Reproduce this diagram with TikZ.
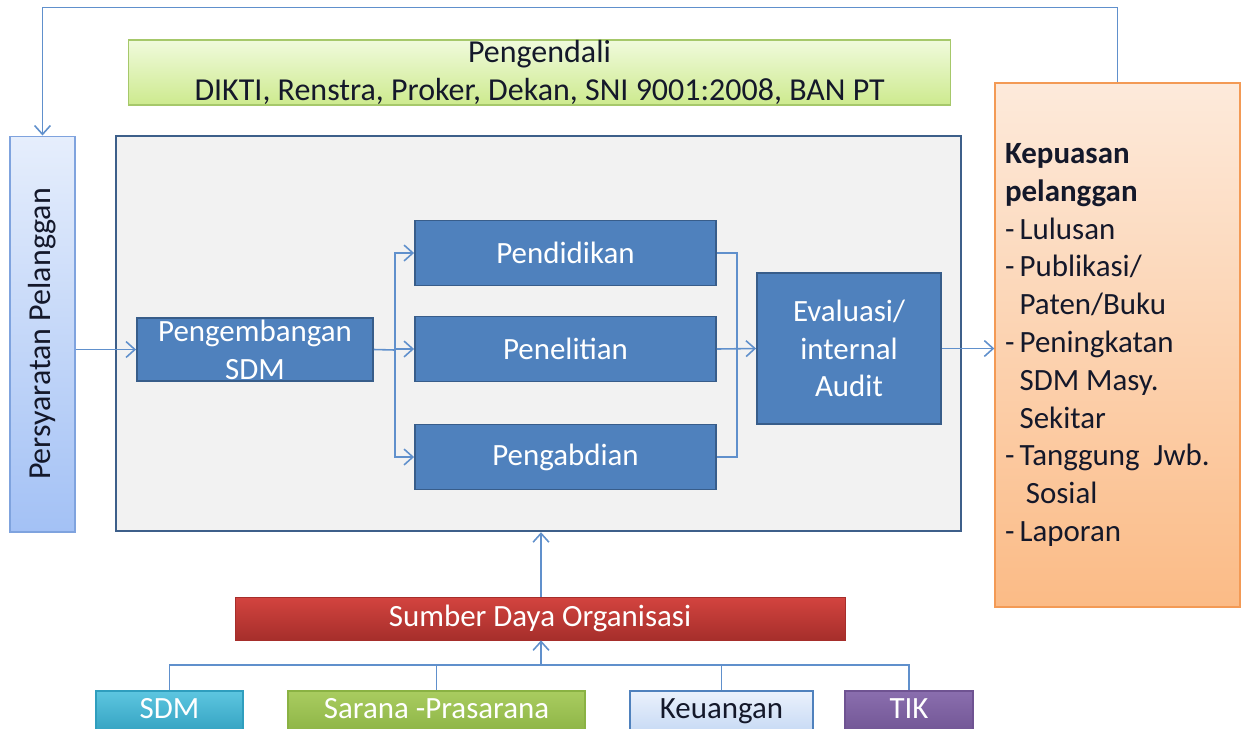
\documentclass[tikz,border=0pt]{standalone}
\usepackage{fontspec}
\setmainfont{Carlito}
\usetikzlibrary{arrows.meta}

\definecolor{procblue}{HTML}{4F81BD}
\definecolor{procborder}{HTML}{385D8A}
\definecolor{linkblue}{HTML}{6090CC}
\definecolor{mainfill}{HTML}{F2F2F2}
\definecolor{mainborder}{HTML}{3D5F8A}
\definecolor{darktext}{HTML}{14182A}
\definecolor{ctrlTop}{HTML}{F0FADC}
\definecolor{ctrlBot}{HTML}{CDEA8E}
\definecolor{ctrlBorder}{HTML}{A6C86A}
\definecolor{reqLeft}{HTML}{E6EEFC}
\definecolor{reqRight}{HTML}{A3C1F5}
\definecolor{reqBorder}{HTML}{7FA3DE}
\definecolor{kepTop}{HTML}{FDEADB}
\definecolor{kepBot}{HTML}{FBBB86}
\definecolor{kepBorder}{HTML}{F39A55}
\definecolor{sumTop}{HTML}{D3443F}
\definecolor{sumBot}{HTML}{A62E2B}
\definecolor{sdmTop}{HTML}{5DC6E0}
\definecolor{sdmBot}{HTML}{2F9EBE}
\definecolor{sarTop}{HTML}{A9CC60}
\definecolor{sarBot}{HTML}{8AB243}
\definecolor{keuTop}{HTML}{EAF1FC}
\definecolor{keuBot}{HTML}{C3D7F3}
\definecolor{tikTop}{HTML}{8A6EAE}
\definecolor{tikBot}{HTML}{6F5392}

\begin{document}
\begin{tikzpicture}[x=0.02cm, y=-0.02cm, >={Straight Barb[length=5pt,width=9pt]},
  every box/.style={inner sep=0pt, align=center, text=darktext,
    font=\fontsize{17.6}{21.5}\selectfont},
  box proses/.style={draw=procborder, line width=1.1pt, fill=procblue, text=white},
  res sdm/.style={draw=sdmBot, top color=sdmTop, bottom color=sdmBot, text=white},
  res sarana/.style={draw=sarBot, top color=sarTop, bottom color=sarBot, text=white},
  res keuangan/.style={draw=procblue, top color=keuTop, bottom color=keuBot},
  res tik/.style={draw=tikBot, top color=tikTop, bottom color=tikBot, text=white},
  link/.style={draw=linkblue, line width=0.9pt}]

\useasboundingbox (0,0) rectangle (1244,728);

% outer boxes
\node [every box, draw=ctrlBorder, line width=0.6pt, top color=ctrlTop, bottom color=ctrlBot,
  font=\fontsize{18.2}{21.8}\selectfont,
  minimum width=16.46cm, minimum height=1.3cm] (pengendali) at (539.5,72.5)
  {Pengendali\\ DIKTI, Renstra, Proker, Dekan, SNI 9001:2008, BAN PT};

\node [every box, draw=reqBorder, line width=0.6pt, rotate=90, top color=reqLeft, bottom color=reqRight,
  font=\fontsize{18.2}{21.8}\selectfont,
  minimum width=7.92cm, minimum height=1.3cm] (persyaratan) at (42.5,334) {Persyaratan Pelanggan};

\node [every box, draw=mainborder, line width=1.4pt, fill=mainfill,
  minimum width=16.9cm, minimum height=7.9cm] (proses) at (538.5,333.5) {};

\node [every box, draw=kepBorder, line width=0.8pt, top color=kepTop, bottom color=kepBot,
  align=left, text width=4.5cm, inner xsep=0.2cm, minimum height=10.48cm] (kepuasan) at (1117.5,345)
  {\textbf{Kepuasan}\\ \textbf{pelanggan}\\ -\,Lulusan\\ -\,Publikasi/\\ \phantom{-\,}Paten/Buku\\
   -\,Peningkatan\\ \phantom{-\,}SDM\hspace{0.22em}Masy.\\ \phantom{-\,}Sekitar\\ -\,Tanggung\hspace{0.45em}Jwb.\\
   \phantom{-\,}\hspace{0.2em}Sosial\\ -\,Laporan};

% process
\node [every box, box proses, minimum width=4.72cm, minimum height=1.26cm] (pengembangan) at (255,349.5)
  {Pengembangan\\ SDM};

\foreach \m/\y [count=\i] in {Pendidikan/253, Penelitian/349, Pengabdian/457}
  \node [every box, box proses, minimum width=6.02cm, minimum height=1.3cm] (tridharma-\i) at (565.5,\y) {\m};

\node [every box, box proses, minimum width=3.68cm, minimum height=3.02cm] (evaluasi) at (849,348.5)
  {Evaluasi/\\ internal\\ Audit};

% resources
\node [every box, draw=sumBot, top color=sumTop, bottom color=sumBot, text=white,
  minimum width=12.2cm, minimum height=0.86cm] (sumber) at (540,618.5) {Sumber Daya Organisasi};

\foreach \name/\x/\w/\l in {sdm/169.5/2.94/SDM, sarana/436.5/5.94/Sarana -Prasarana,
    keuangan/721.5/3.66/Keuangan, tik/909/2.56/TIK}
  \node [every box, res \name, line width=0.8pt, minimum width=\w cm, minimum height=0.92cm,
    text height=0.4cm, text depth=0.22cm] (res-\name) at (\x,714) {\l};

\coordinate (bus) at (541,665);
\coordinate (split) at (395,350);
\coordinate (merge) at (737,350);

% connectors
\draw [link, ->] (kepuasan.north) -- ++(0,-75) -| (persyaratan.east);
\draw [link, ->] (persyaratan.south |- pengembangan.west) -- (pengembangan.west);
\draw [link] (pengembangan.east) -- (split);
\foreach \i in {1,...,3}
  \draw [link, ->] (split) |- (tridharma-\i.west);
\foreach \i in {1,3}
  \draw [link] (tridharma-\i.east) -| (merge);
\draw [link, ->] (tridharma-2.east) -- (evaluasi.west);
\draw [link, ->] (evaluasi.east) -- (evaluasi.east -| kepuasan.west);

\foreach \name in {sdm,sarana,keuangan,tik}
  \draw [link] (res-\name.north) |- (bus);
\draw [link, ->] (bus) -- (bus |- sumber.south);
\draw [link, ->] (bus |- sumber.north) -- (bus |- proses.south);

\end{tikzpicture}
\end{document}
